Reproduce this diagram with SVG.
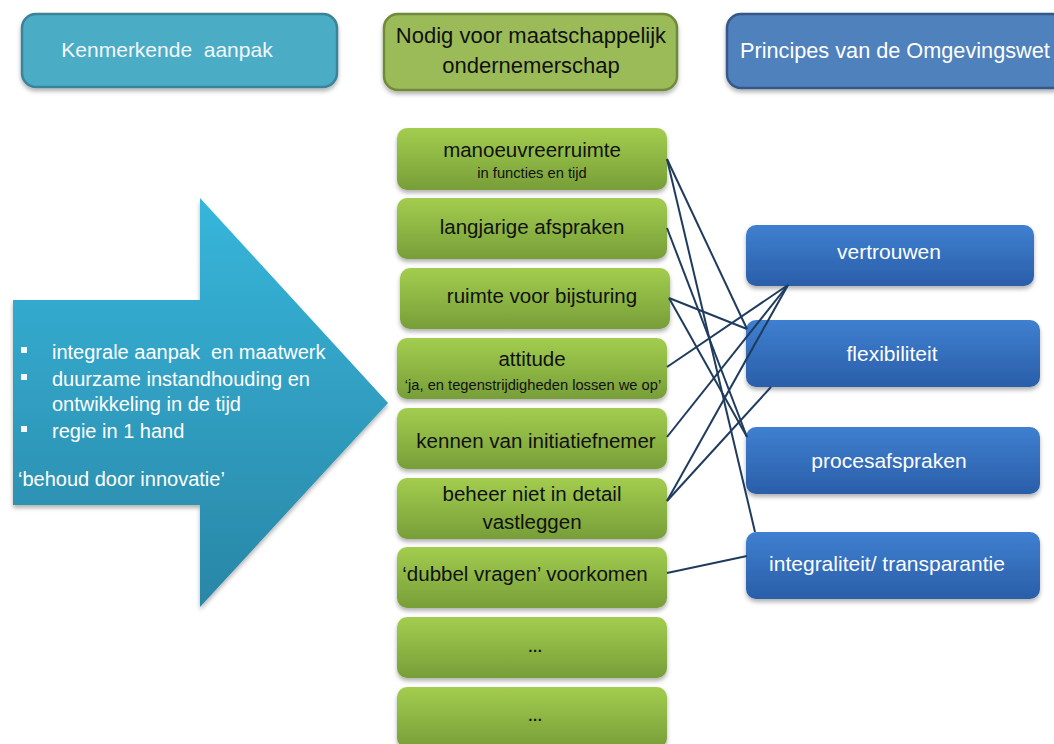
<svg xmlns="http://www.w3.org/2000/svg" width="1054" height="744" viewBox="0 0 1054 744">
<defs>
<linearGradient id="gGreen" x1="0" y1="0" x2="0" y2="1">
<stop offset="0" stop-color="#a3cd4f"/>
<stop offset="1" stop-color="#779e38"/>
</linearGradient>
<linearGradient id="gBlue" x1="0" y1="0" x2="0" y2="1">
<stop offset="0" stop-color="#3f80d0"/>
<stop offset="1" stop-color="#2a5ea9"/>
</linearGradient>
<linearGradient id="gArrow" x1="0" y1="0" x2="0" y2="1">
<stop offset="0" stop-color="#36b6db"/>
<stop offset="1" stop-color="#2a86a6"/>
</linearGradient>
<filter id="sh" x="-10%" y="-20%" width="120%" height="150%">
<feDropShadow dx="0" dy="3" stdDeviation="2" flood-color="#000" flood-opacity="0.3"/>
</filter>
<style>
text{font-family:"Liberation Sans",Arial,sans-serif;white-space:pre}
.hdr{stroke-width:2.5}
.gnode{fill:url(#gGreen);filter:url(#sh)}
.bnode{fill:url(#gBlue);filter:url(#sh)}
.gt{fill:#111;font-size:20.5px;text-anchor:middle}
.gs{fill:#111;font-size:14.7px;text-anchor:middle}
.bt{fill:#fff;font-size:21px;text-anchor:middle}
.at{fill:#fff;font-size:20px}
.bul{fill:#f4fafc}
.con line{stroke:#1f3b5e;stroke-width:2}
</style>
</defs>
<rect width="1054" height="744" fill="#fff"/>

<g id="hdr-kenmerkende">
<rect class="hdr" x="22" y="14" width="315" height="73" rx="14" fill="#4bacc6" stroke="#3a8399" filter="url(#sh)"/>
<text x="167" y="57" font-size="21" fill="#f2f8fa" text-anchor="middle">Kenmerkende  aanpak</text>
</g>
<g id="hdr-nodig">
<rect class="hdr" x="384" y="14" width="293" height="76" rx="14" fill="#9bbb59" stroke="#6f8a3a" filter="url(#sh)"/>
<text x="531" y="43" font-size="22" fill="#111" text-anchor="middle">Nodig voor maatschappelijk</text>
<text x="531" y="73" font-size="22" fill="#111" text-anchor="middle">ondernemerschap</text>
</g>
<g id="hdr-principes">
<rect class="hdr" x="727" y="14" width="340" height="74" rx="14" fill="#4f81bd" stroke="#36598a" filter="url(#sh)"/>
<text x="740" y="58" font-size="21.7" fill="#fff">Principes van de Omgevingswet</text>
</g>

<g id="arrow">
<polygon points="13,300 200,300 200,198 388,403 200,607 200,505 13,505" fill="url(#gArrow)" filter="url(#sh)"/>
<rect class="bul" x="21" y="347" width="6" height="6"/>
<text class="at" x="52" y="359">integrale aanpak  en maatwerk</text>
<rect class="bul" x="21" y="374" width="6" height="6"/>
<text class="at" x="52" y="386">duurzame instandhouding en</text>
<text class="at" x="52" y="411">ontwikkeling in de tijd</text>
<rect class="bul" x="21" y="426" width="6" height="6"/>
<text class="at" x="52" y="438">regie in 1 hand</text>
<text class="at" x="18" y="486">‘behoud door innovatie’</text>
</g>

<g id="n-manoeuvreerruimte">
<rect class="gnode" x="397" y="128" width="270" height="62" rx="10"/>
<text class="gt" x="532" y="157">manoeuvreerruimte</text>
<text class="gs" x="532" y="178" font-size="15">in functies en tijd</text>
</g>
<g id="n-langjarige">
<rect class="gnode" x="397" y="198" width="270" height="61" rx="10"/>
<text class="gt" x="532" y="234">langjarige afspraken</text>
</g>
<g id="n-ruimte">
<rect class="gnode" x="400" y="268" width="270" height="61" rx="10"/>
<text class="gt" x="542" y="303">ruimte voor bijsturing</text>
</g>
<g id="n-attitude">
<rect class="gnode" x="397" y="338" width="270" height="61" rx="10"/>
<text class="gt" x="532" y="366">attitude</text>
<text class="gs" x="533" y="390">‘ja, en tegenstrijdigheden lossen we op’</text>
</g>
<g id="n-kennen">
<rect class="gnode" x="397" y="408" width="270" height="61" rx="10"/>
<text class="gt" x="536" y="448">kennen van initiatiefnemer</text>
</g>
<g id="n-beheer">
<rect class="gnode" x="397" y="478" width="270" height="61" rx="10"/>
<text class="gt" x="532" y="501">beheer niet in detail</text>
<text class="gt" x="532" y="529">vastleggen</text>
</g>
<g id="n-dubbel">
<rect class="gnode" x="397" y="547" width="270" height="61" rx="10"/>
<text class="gt" x="525" y="581">‘dubbel vragen’ voorkomen</text>
</g>
<g id="n-dots1">
<rect class="gnode" x="397" y="617" width="270" height="61" rx="10"/>
<text class="gs" x="535" y="652" font-weight="bold">…</text>
</g>
<g id="n-dots2">
<rect class="gnode" x="397" y="687" width="270" height="61" rx="10"/>
<text class="gs" x="535" y="721" font-weight="bold">…</text>
</g>

<g id="n-vertrouwen">
<rect class="bnode" x="746" y="225" width="288" height="61" rx="10"/>
<text class="bt" x="889" y="259">vertrouwen</text>
</g>
<g id="n-flexibiliteit">
<rect class="bnode" x="746" y="320" width="294" height="67" rx="10"/>
<text class="bt" x="892" y="361">flexibiliteit</text>
</g>
<g id="n-procesafspraken">
<rect class="bnode" x="746" y="427" width="294" height="67" rx="10"/>
<text class="bt" x="889" y="468">procesafspraken</text>
</g>
<g id="n-integraliteit">
<rect class="bnode" x="746" y="532" width="294" height="67" rx="10"/>
<text class="bt" x="887" y="571">integraliteit/ transparantie</text>
</g>

<g id="connectors" class="con">
<line x1="667" y1="159" x2="747" y2="329"/>
<line x1="667" y1="159" x2="755" y2="532"/>
<line x1="667" y1="228" x2="747" y2="437"/>
<line x1="669" y1="298" x2="747" y2="329"/>
<line x1="669" y1="298" x2="747" y2="437"/>
<line x1="667" y1="367" x2="788" y2="285"/>
<line x1="667" y1="437" x2="788" y2="285"/>
<line x1="667" y1="501" x2="788" y2="285"/>
<line x1="667" y1="501" x2="771" y2="387"/>
<line x1="667" y1="573" x2="747" y2="556"/>
</g>
</svg>
